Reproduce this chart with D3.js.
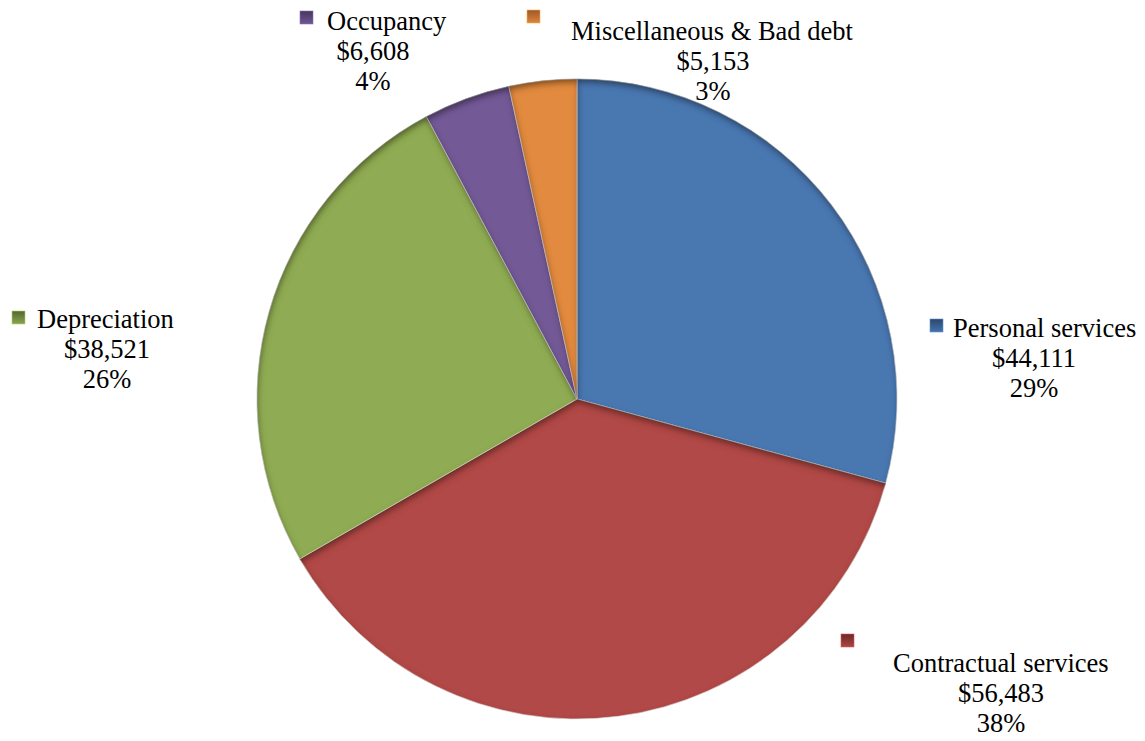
<!DOCTYPE html>
<html><head><meta charset="utf-8">
<script src="https://cdn.jsdelivr.net/npm/d3@7"></script>
<style>html,body{margin:0;padding:0;background:#fff;}svg{display:block;}</style>
</head><body>
<svg id="chart" width="1145" height="741"></svg>
<script>
// ---- data ----
const categories = ["Personal services", "Contractual services", "Depreciation", "Occupancy", "Miscellaneous & Bad debt"];
const amounts = [44111, 56483, 38521, 6608, 5153];
const valueLabels = ["$44,111", "$56,483", "$38,521", "$6,608", "$5,153"];
const percentLabels = ["29%", "38%", "26%", "4%", "3%"];

// ---- style / layout ----
const colors = ["#4877B0", "#B04A47", "#8FAB52", "#735A96", "#E28A3F"];
const markerColors = ["#2F4F78", "#7A2D2B", "#5E7136", "#4E3D6A", "#B0622A"];
// label block layout: cx = block centre, y = first baseline, marker (mx,my) top-left, name line start
const labelLayout = [
  {cx: 1034, y: 337, mx: 930, my: 319, nameX: 953, nameY: 337},
  {cx: 1001, y: 672, mx: 841, my: 634, nameX: 893, nameY: 672},
  {cx: 107,  y: 328, mx: 12,  my: 311, nameX: 37,  nameY: 328},
  {cx: 373,  y: 30,  mx: 300, my: 11,  nameX: 327, nameY: 30},
  {cx: 713,  y: 40,  mx: 527, my: 10,  nameX: 571, nameY: 40}
];
const cx = 577, cy = 399, R = 320;
const lineH = 30;
const fontFamily = "'Liberation Serif','Times New Roman',serif";
const fontSize = 26.5;

const svg = d3.select("#chart");
const defs = svg.append("defs");

// inner shadow filter (bevel-like shading)
const f = defs.append("filter").attr("id", "inner")
  .attr("x", "-20%").attr("y", "-20%").attr("width", "140%").attr("height", "140%");
f.append("feFlood").attr("flood-color", "#1a0a08").attr("flood-opacity", 0.75).attr("result", "flood");
f.append("feComposite").attr("in", "flood").attr("in2", "SourceAlpha").attr("operator", "out").attr("result", "outside");
f.append("feOffset").attr("in", "outside").attr("dx", 1).attr("dy", 3.5).attr("result", "off");
f.append("feGaussianBlur").attr("in", "off").attr("stdDeviation", 3).attr("result", "blur");
f.append("feComposite").attr("in", "blur").attr("in2", "SourceAlpha").attr("operator", "in").attr("result", "shadow");
const fm = f.append("feMerge");
fm.append("feMergeNode").attr("in", "SourceGraphic");
fm.append("feMergeNode").attr("in", "shadow");

// marker gradients
markerColors.forEach((c, i) => {
  const g = defs.append("linearGradient").attr("id", "mk" + i)
    .attr("x1", 0).attr("y1", 0).attr("x2", 0).attr("y2", 1);
  g.append("stop").attr("offset", "0%").attr("stop-color", d3.color(c).darker(0.3));
  g.append("stop").attr("offset", "100%").attr("stop-color", d3.color(colors[i]).darker(0.1));
});

const pie = d3.pie().sort(null).value(d => d)(amounts);
const arc = d3.arc().innerRadius(0).outerRadius(R);

const gPie = svg.append("g").attr("transform", `translate(${cx},${cy})`);
gPie.selectAll("path.slice").data(pie).join("path")
  .attr("class", "slice")
  .attr("d", arc)
  .attr("fill", (d, i) => colors[i])
  .attr("stroke", "#e8e8e8")
  .attr("stroke-width", 0.6)
  .attr("filter", "url(#inner)");

// labels
const gLab = svg.append("g").attr("font-family", fontFamily).attr("font-size", fontSize).attr("fill", "#000");
categories.forEach((name, i) => {
  const L = labelLayout[i];
  gLab.append("rect").attr("x", L.mx).attr("y", L.my).attr("width", 13).attr("height", 13)
    .attr("fill", `url(#mk${i})`).attr("stroke", d3.color(colors[i]).brighter(0.6)).attr("stroke-width", 0.6);
  gLab.append("text").attr("x", L.nameX).attr("y", L.nameY).text(name);
  gLab.append("text").attr("x", L.cx).attr("y", L.y + lineH).attr("text-anchor", "middle").text(valueLabels[i]);
  gLab.append("text").attr("x", L.cx).attr("y", L.y + 2 * lineH).attr("text-anchor", "middle").text(percentLabels[i]);
});
</script>
</body></html>
